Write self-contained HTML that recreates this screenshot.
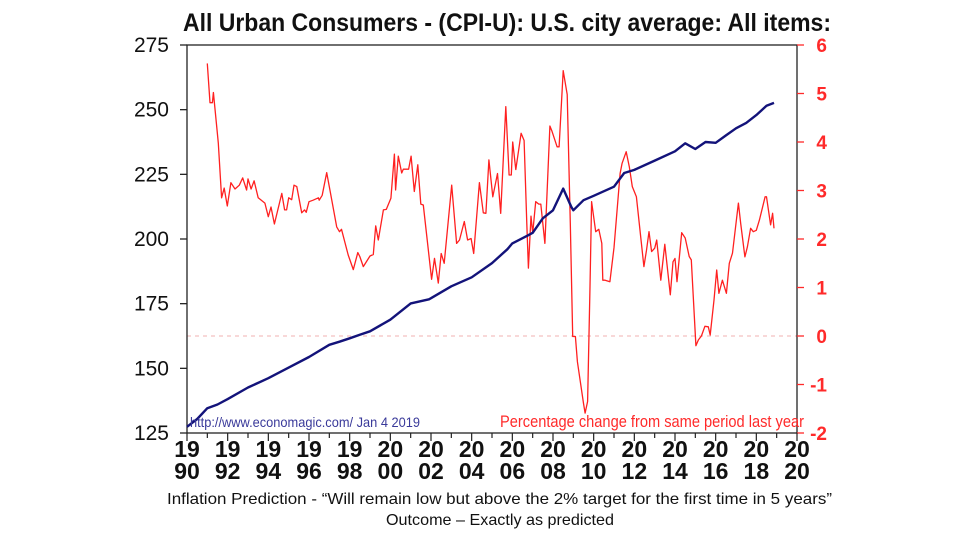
<!DOCTYPE html>
<html><head><meta charset="utf-8"><style>
html,body{margin:0;padding:0;background:#fff;width:960px;height:540px;overflow:hidden}
svg{display:block}
text{font-family:"Liberation Sans Narrow","Liberation Sans",sans-serif}
</style></head><body>
<svg id="chart" width="960" height="540" viewBox="0 0 960 540" xmlns="http://www.w3.org/2000/svg">
<text x="183" y="31" font-size="25" font-weight="bold" fill="#111" textLength="648" lengthAdjust="spacingAndGlyphs">All Urban Consumers - (CPI-U): U.S. city average: All items:</text>
<line id="zeroLine" stroke="#f0b0b0" stroke-dasharray="4,4" stroke-width="1"/>
<g id="axes"></g>
<g id="series"></g>
<text x="190" y="427" font-size="14" fill="#3a3a9a" textLength="230" lengthAdjust="spacingAndGlyphs">http://www.economagic.com/   Jan 4 2019</text>
<text x="500" y="427" font-size="17" fill="#ff2a2a" textLength="304" lengthAdjust="spacingAndGlyphs">Percentage change from same period last year</text>
<text x="167" y="504" font-size="16" fill="#111" textLength="665" lengthAdjust="spacingAndGlyphs">Inflation Prediction -  “Will remain low but above the 2% target for the first time in 5 years”</text>
<text x="386" y="525" font-size="16" fill="#111" textLength="228" lengthAdjust="spacingAndGlyphs">Outcome – Exactly as predicted</text>
</svg>
<script>
const leftTicks=[125,150,175,200,225,250,275];
const rightTicks=[-2,-1,0,1,2,3,4,5,6];
const yearLabels=[1990,1992,1994,1996,1998,2000,2002,2004,2006,2008,2010,2012,2014,2016,2018,2020];
const cpiYears=[1990,1990.5,1991,1991.5,1992,1993,1994,1995,1996,1997,1997.5,1998,1998.5,1999,2000,2001,2001.9,2002,2003,2004,2005,2005.75,2006,2006.75,2007,2007.5,2008,2008.5,2008.9,2009,2009.5,2010,2011,2011.5,2012,2013,2014,2014.5,2015,2015.5,2016,2016.5,2017,2017.5,2018,2018.5,2018.87];
const cpiValues=[127.4,130.4,134.6,136.0,138.1,142.6,146.2,150.3,154.4,159.1,160.3,161.6,163.0,164.3,168.8,175.1,176.7,177.1,181.7,185.2,190.7,196.0,198.3,201.3,202.4,208.0,211.1,219.5,212.4,211.1,215.0,216.7,220.2,225.5,226.7,230.3,233.9,237.0,234.8,237.5,237.2,240.0,242.8,244.9,247.9,251.5,252.6];
const infYears=[1991.0,1991.13,1991.25,1991.3,1991.54,1991.7,1991.83,1991.98,1992.16,1992.36,1992.57,1992.74,1992.93,1993.0,1993.15,1993.3,1993.5,1993.83,1994.0,1994.13,1994.3,1994.66,1994.8,1994.9,1995.0,1995.15,1995.26,1995.4,1995.64,1995.78,1995.86,1996.0,1996.2,1996.46,1996.5,1996.65,1996.87,1997.0,1997.36,1997.5,1997.6,1997.93,1998.18,1998.4,1998.5,1998.67,1999.0,1999.16,1999.28,1999.41,1999.66,1999.8,2000.03,2000.2,2000.26,2000.39,2000.56,2000.64,2000.9,2001.02,2001.18,2001.35,2001.5,2001.62,2002.03,2002.17,2002.36,2002.5,2002.65,2003.02,2003.26,2003.4,2003.64,2003.8,2003.97,2004.1,2004.38,2004.57,2004.7,2004.85,2005.04,2005.27,2005.43,2005.68,2005.84,2005.95,2006.02,2006.17,2006.43,2006.58,2006.71,2006.79,2006.92,2007.0,2007.15,2007.3,2007.4,2007.6,2007.85,2007.95,2008.2,2008.3,2008.5,2008.7,2008.85,2008.97,2009.1,2009.2,2009.5,2009.58,2009.7,2009.82,2009.9,2010.1,2010.25,2010.4,2010.45,2010.56,2010.8,2011.0,2011.3,2011.4,2011.6,2011.75,2011.9,2012.1,2012.47,2012.6,2012.72,2012.85,2013.0,2013.1,2013.3,2013.5,2013.77,2013.9,2014.0,2014.1,2014.33,2014.5,2014.7,2014.8,2015.03,2015.15,2015.3,2015.47,2015.64,2015.73,2015.92,2016.05,2016.16,2016.33,2016.53,2016.67,2016.83,2017.12,2017.23,2017.44,2017.56,2017.72,2017.85,2018.0,2018.15,2018.43,2018.5,2018.7,2018.8,2018.87];
const infValues=[5.62,4.81,4.81,5.02,3.98,2.85,3.05,2.68,3.16,3.03,3.11,3.26,3.01,3.24,3.03,3.2,2.85,2.74,2.46,2.66,2.31,2.94,2.6,2.6,2.85,2.81,3.11,3.08,2.54,2.6,2.55,2.77,2.8,2.85,2.8,2.9,3.37,3.08,2.25,2.15,2.2,1.67,1.37,1.72,1.64,1.43,1.65,1.68,2.27,1.98,2.6,2.61,2.84,3.75,3.01,3.71,3.36,3.44,3.44,3.71,2.98,3.53,2.72,2.7,1.17,1.6,1.09,1.7,1.5,3.11,1.91,1.98,2.36,1.98,2.01,1.7,3.16,2.54,2.53,3.63,2.87,3.35,2.53,4.73,3.32,3.32,4.0,3.43,4.18,4.03,2.32,1.4,2.47,2.12,2.77,2.72,2.72,1.91,4.33,4.22,3.9,3.9,5.47,4.98,2.33,-0.01,-0.01,-0.53,-1.39,-1.59,-1.35,1.02,2.77,2.15,2.2,1.91,1.15,1.15,1.12,1.82,3.35,3.56,3.8,3.49,3.08,2.87,1.43,1.77,2.15,1.74,1.81,1.98,1.15,1.89,0.85,1.53,1.6,1.12,2.13,2.02,1.64,1.57,-0.2,-0.08,0.0,0.2,0.19,0.02,0.74,1.36,0.88,1.15,0.88,1.5,1.71,2.74,2.32,1.63,1.84,2.22,2.15,2.18,2.39,2.87,2.87,2.29,2.53,2.22];

const L=187,R=797,T=45,B=433,NS='http://www.w3.org/2000/svg';
const xS=y=>L+(y-1990)/30*(R-L);
const yL=v=>B-(v-125)/150*(B-T);
const yR=v=>B-(v+2)/8*(B-T);
function mk(tag,attrs,parent,txt){const e=document.createElementNS(NS,tag);for(const k in attrs)e.setAttribute(k,attrs[k]);if(txt!==undefined)e.textContent=txt;parent.appendChild(e);return e;}
const axes=document.getElementById('axes'),series=document.getElementById('series');
const z=document.getElementById('zeroLine');
z.setAttribute('x1',L);z.setAttribute('x2',R);z.setAttribute('y1',yR(0));z.setAttribute('y2',yR(0));

let e=mk('rect',{x:L,y:T,width:R-L,height:B-T,fill:'none',stroke:'#222','stroke-width':1.3},axes);


leftTicks.forEach(v=>{
 let t=mk('line',{x1:L-7,x2:L,y1:yL(v),y2:yL(v),stroke:'#222','stroke-width':1.3},axes);
 
 
 let l=mk('text',{x:L-18,y:yL(v)+7,'font-size':21,'text-anchor':'end',fill:'#111'},axes,String(v));
 
 
});
rightTicks.forEach(v=>{
 let t=mk('line',{x1:R,x2:R+7,y1:yR(v),y2:yR(v),stroke:'#ff2a2a','stroke-width':1.3},axes);
 
 
 let l=mk('text',{x:R+30,y:yR(v)+7,'font-size':19,'font-weight':'bold','text-anchor':'end',fill:'#ff2a2a'},axes,v<0?'-'+Math.abs(v):String(v));
 
 
});
for(let y=1990;y<=2020;y++){
 let t=mk('line',{x1:xS(y),x2:xS(y),y1:B,y2:B+(y%2?5:8),stroke:'#222','stroke-width':1.2},axes);
 
 
}
yearLabels.forEach(y=>{
 const s=String(y);
 let a=mk('text',{x:xS(y),y:B+24,'font-size':23,'font-weight':'bold','text-anchor':'middle',fill:'#111'},axes,s.slice(0,2));
 
 
 let b=mk('text',{x:xS(y),y:B+46,'font-size':23,'font-weight':'bold','text-anchor':'middle',fill:'#111'},axes,s.slice(2));
 
 
});
let rp=infYears.map((y,i)=>xS(y).toFixed(1)+','+yR(infValues[i]).toFixed(1)).join(' ');
let red=mk('polyline',{points:rp,fill:'none',stroke:'#ff2020','stroke-width':1.3,'stroke-linejoin':'round'},series);


let bp=cpiYears.map((y,i)=>xS(y).toFixed(1)+','+yL(cpiValues[i]).toFixed(1)).join(' ');
let blue=mk('polyline',{points:bp,fill:'none',stroke:'#13137a','stroke-width':2.4,'stroke-linejoin':'round'},series);


</script>
</body></html>
